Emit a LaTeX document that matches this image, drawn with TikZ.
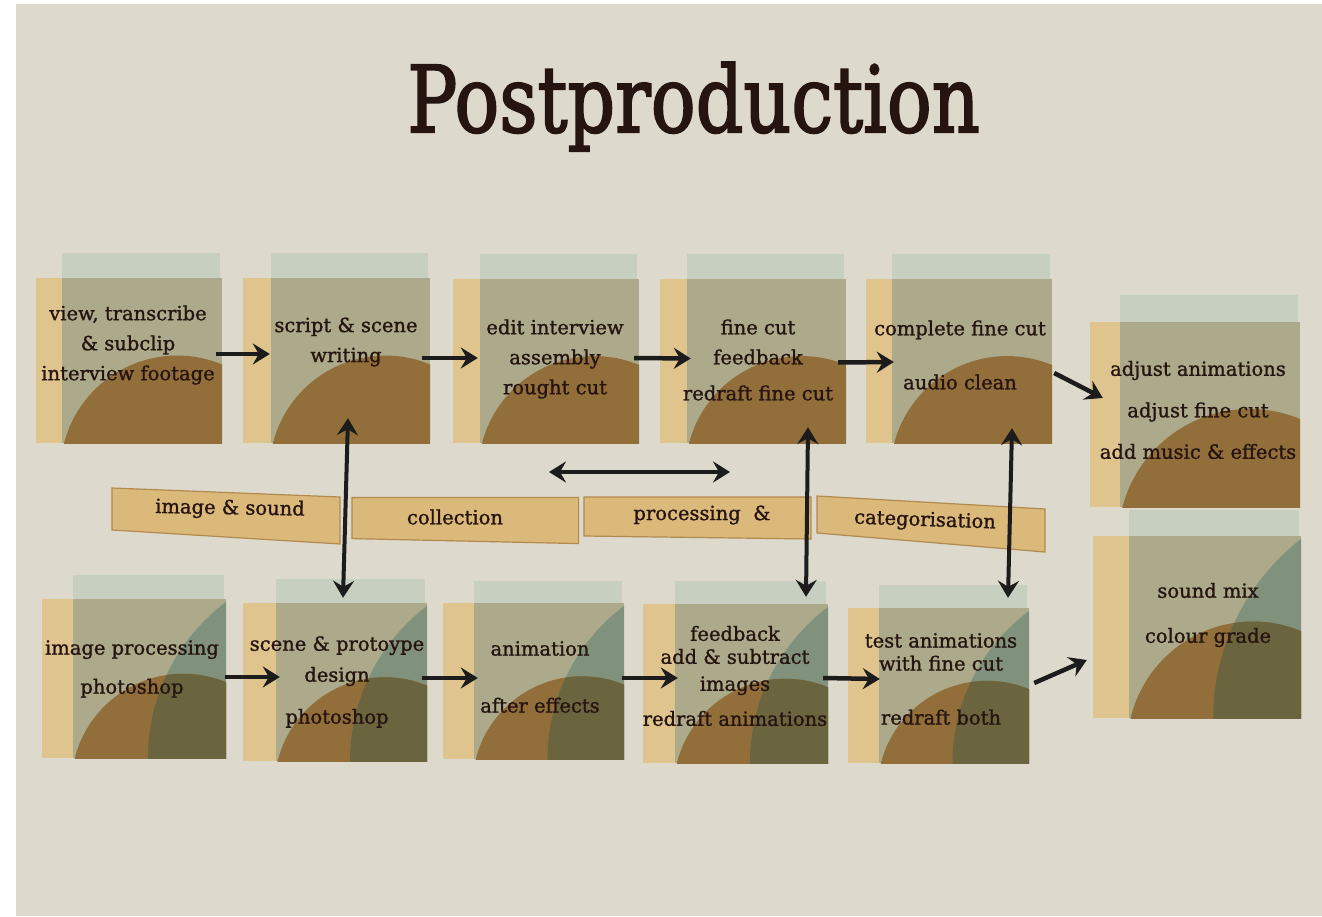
\documentclass[tikz,border=0pt]{standalone}
\usepackage{fontspec}
\setmainfont{DejaVu Serif}
\newfontfamily\boxfont[FakeBold=1.2]{DejaVu Serif}
\newfontfamily\titlefont[FakeBold=2.2]{DejaVu Serif}
\usepackage{graphicx}
\usetikzlibrary{arrows.meta}
\definecolor{paperc}{RGB}{221,217,204}
\definecolor{tanc}{RGB}{224,196,142}
\definecolor{stripc}{RGB}{199,208,192}
\definecolor{sagec}{RGB}{172,170,138}
\definecolor{brownc}{RGB}{146,110,58}
\definecolor{tealc}{RGB}{128,146,124}
\definecolor{olivec}{RGB}{106,101,62}
\definecolor{inkc}{RGB}{38,20,16}
\definecolor{tapec}{RGB}{219,185,122}
\definecolor{tapeedge}{RGB}{178,138,78}
\definecolor{arrc}{RGB}{28,28,28}
\tikzset{
  lbl/.style={text=inkc, align=center, inner sep=0pt, font=\boxfont\fontsize{19.5}{30}\selectfont},
  tapelbl/.style={text=inkc, inner sep=0pt, font=\boxfont\fontsize{19.5}{24}\selectfont},
  tapefill/.style={fill=tapec, draw=tapeedge, line width=1.2pt},
  arr/.style={draw=arrc, line width=4.5pt, -{Stealth[length=17pt,width=21pt,inset=6pt]}},
  darr/.style={draw=arrc, line width=4pt, {Stealth[length=17pt,width=21pt,inset=6pt]}-{Stealth[length=17pt,width=21pt,inset=6pt]}},
}
% #1 name, #2 tanL, #3 tanT, #4 tanR, #5 tanB, #6 greenL, #7 stripT, #8 teal flag
\newcommand\pbox[8]{%
  \pgfmathsetmacro\gw{#4-#6}%
  \pgfmathsetmacro\gh{#5-#7}%
  \pgfmathsetmacro\ct{#3+0.47*(#5-#3)}%
  \pgfmathsetmacro\rr{0.73*\gw}%
  \pgfmathsetmacro\ccx{#6+0.72*\gw}%
  \pgfmathsetmacro\ccy{\ct+\rr}%
  \pgfmathsetmacro\ox{#6+0.49*\gw}%
  \pgfmathsetmacro\wtwo{(#4-\ox)/10}%
  \pgfmathsetmacro\htwo{(#5-#3-3)/10}%
  \pgfmathsetmacro\RR{(\wtwo*\wtwo+\htwo*\htwo)/(2*\wtwo)*10}%
  \pgfmathsetmacro\tcx{\ox+\RR}%
  \fill[tanc] (#2,#3) rectangle (#4,#5);
  \fill[stripc] (#6,#7) rectangle (#4-2,#3);
  \fill[sagec] (#6,#3) rectangle (#4,#5);
  \begin{scope}
    \clip (#6,#3) rectangle (#4,#5);
    \ifnum#8=1 \fill[tealc] (\tcx,#5) circle[radius=\RR pt];\fi
    \fill[brownc] (\ccx,\ccy) circle[radius=\rr pt];
    \ifnum#8=1 \clip (\ccx,\ccy) circle[radius=\rr pt]; \fill[olivec] (\tcx,#5) circle[radius=\RR pt];\fi
  \end{scope}
  \node[inner sep=0pt, minimum width=\gw pt, minimum height=\gh pt] (#1) at ({(#6+#4)/2},{(#7+#5)/2}) {};
}
\begin{document}
\begin{tikzpicture}[x=1pt,y=-1pt]
\useasboundingbox (0,0) rectangle (1322,917);
\fill[white] (0,0) rectangle (1322,917);
\fill[paperc] (16,4) rectangle (1322,916);

% title
\node[anchor=base, text=inkc] (title) at (693.5,132) {\scalebox{0.81}[1]{\titlefont\fontsize{92}{100}\selectfont Postproduction}};

% top row
\pbox{g1}{36}{278}{222}{443}{62}{253}{0}
\pbox{g2}{243}{278}{430}{443}{271}{253}{0}
\pbox{g3}{453}{279}{639}{443}{480}{254}{0}
\pbox{g4}{660}{279}{846}{443}{687}{254}{0}
\pbox{g5}{866}{279}{1052}{443}{892}{254}{0}
\pbox{g6}{1090}{322}{1300}{507}{1120}{295}{0}
% bottom row
\pbox{g12}{1093}{536}{1301}{718}{1129}{510}{1}
\pbox{g7}{42}{599}{226}{758}{73}{575}{1}
\pbox{g8}{243}{603}{427}{761}{276}{579}{1}
\pbox{g9}{443}{603}{624}{759}{474}{581}{1}
\pbox{g10}{643}{604}{828}{763}{675}{581}{1}
\pbox{g11}{848}{608}{1029}{763}{879}{585}{1}

% box texts
\node[lbl] (t1) at (128,345) {view, transcribe\\\& subclip\\interview footage};
\node[lbl] (t2) at (346,342) {script \& scene\\writing};
\node[lbl] (t3) at (555,359) {edit interview\\assembly\\rought cut};
\node[lbl] (t4) at (758,360) {fine cut\\feedback\\[6pt]redraft fine cut};
\node[lbl] (t5) at (960,355) {complete fine cut\\[24pt]audio clean};
\node[lbl] (t6) at (1198,410) {adjust animations\\[11.5pt]adjust fine cut\\[11.5pt]add music \& effects};
\node[lbl] (t7) at (132,669) {image processing\\[9pt]photoshop};
\node[lbl] (t8) at (337,682) {scene \& protoype\\[1pt]design\\[12pt]photoshop};
\node[lbl] (t9) at (540,677) {animation\\[27pt]after effects};
\node[lbl] (t10) at (735,676) {feedback\\[-7pt]add \& subtract\\[-3pt]images\\[5pt]redraft animations};
\node[lbl] (t11) at (941,679) {test animations\\[-7pt]with fine cut\\[24pt]redraft both};
\node[lbl] (t12) at (1208,615) {sound mix\\[15pt]colour grade};

% tapes
\filldraw[tapefill] (112,488) -- (340,497) -- (340,544) -- (112,530) -- cycle;
\filldraw[tapefill] (352,497.5) -- (578.6,497.5) -- (578.6,543.6) -- (352,538.6) -- cycle;
\filldraw[tapefill] (584,497) -- (811,497) -- (811,539) -- (584,536) -- cycle;
\filldraw[tapefill] (817,496) -- (1045,509) -- (1045,552) -- (817,533) -- cycle;
\node[tapelbl, rotate=-1] (l1) at (230,509) {image \& sound};
\node[tapelbl] (l2) at (455,517) {collection};
\node[tapelbl] (l3) at (702,515) {processing \ \&};
\node[tapelbl, rotate=-2] (l4) at (925,521) {categorisation};

% horizontal arrows, top row
\draw[arr] ([xshift=-6pt,yshift=-6pt]g1.east) -- ([xshift=-1pt,yshift=-6pt]g2.west);
\draw[arr] ([xshift=-8pt,yshift=-10pt]g2.east) -- ([xshift=-2pt,yshift=-9.5pt]g3.west);
\draw[arr] ([xshift=-5pt,yshift=-9.5pt]g3.east) -- ([xshift=4pt,yshift=-10pt]g4.west);
\draw[arr] ([xshift=-8pt,yshift=-14pt]g4.east) -- ([xshift=2pt,yshift=-13.5pt]g5.west);
\draw[arr] ([xshift=2pt,yshift=-24.5pt]g5.east) -- ([xshift=-17pt,yshift=3pt]g6.west);
% horizontal arrows, bottom row
\draw[arr] ([xshift=-1pt,yshift=-10.5pt]g7.east) -- ([xshift=4pt,yshift=-7pt]g8.west);
\draw[arr] ([xshift=-5pt,yshift=-8pt]g8.east) -- ([xshift=4pt,yshift=-8pt]g9.west);
\draw[arr] ([xshift=-2pt,yshift=-8pt]g9.east) -- ([xshift=3pt,yshift=-6pt]g10.west);
\draw[arr] ([xshift=-5pt,yshift=-6pt]g10.east) -- ([xshift=1pt,yshift=-5pt]g11.west);
\draw[arr] ([xshift=5pt,yshift=-9pt]g11.east) -- ([xshift=-42pt,yshift=-46pt]g12.west);

% vertical double arrows
\draw[darr] ([xshift=-2.5pt,yshift=25pt]g2.south) -- ([xshift=-8.5pt,yshift=-19pt]g8.north);
\draw[darr] ([xshift=41.5pt,yshift=16pt]g4.south) -- ([xshift=54.5pt,yshift=-16pt]g10.north);
\draw[darr] ([xshift=40pt,yshift=15pt]g5.south) -- ([xshift=54pt,yshift=-13pt]g11.north);

% horizontal double arrow
\coordinate (h1) at (549,472);
\coordinate (h2) at (730,472);
\draw[darr] (h1) -- (h2);
\end{tikzpicture}
\end{document}
